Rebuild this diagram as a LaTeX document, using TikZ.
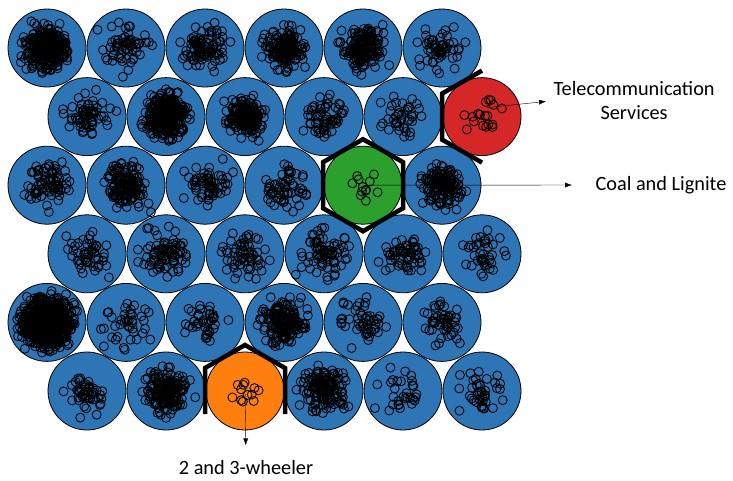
\documentclass[tikz,border=0pt]{standalone}
\usepackage{fontspec}
\setmainfont{Carlito}
\usetikzlibrary{positioning,arrows.meta}
\definecolor{somblue}{HTML}{2E75B6}
\definecolor{somred}{HTML}{D62728}
\definecolor{somgreen}{HTML}{2CA02C}
\definecolor{somorange}{HTML}{FF7F0E}

\begin{document}
\begin{tikzpicture}[x=1pt,y=-1pt,
  cellnode/.style={circle,draw=black,line width=0.8pt,minimum size=78pt,inner sep=0pt},
  hitdot/.style={draw=black,line width=0.85pt},
  hexline/.style={line width=4.5pt,line join=miter},
  pointer/.style={-{Latex[length=7pt,width=5pt]}},
  labeltext/.style={font=\fontsize{20.3}{24}\selectfont,align=center}]
\useasboundingbox (0,0) rectangle (733,480);
\pgfmathsetseed{4711}
%% som cells with their hits
\foreach \ri/\ci/\n/\s/\clr in {
  1/1/300/10/somblue, 1/2/60/11/somblue, 1/3/90/10/somblue, 1/4/150/10/somblue, 1/5/160/10/somblue, 1/6/55/10/somblue,
  2/1/60/11/somblue, 2/2/300/10/somblue, 2/3/170/9/somblue, 2/4/60/10/somblue, 2/5/40/10/somblue, 2/6/18/9/somred,
  3/1/80/10/somblue, 3/2/140/10/somblue, 3/3/60/10/somblue, 3/4/60/10/somblue, 3/5/12/7/somgreen, 3/6/140/10/somblue,
  4/1/50/10/somblue, 4/2/80/11/somblue, 4/3/60/10/somblue, 4/4/75/11/somblue, 4/5/60/10/somblue, 4/6/40/10/somblue,
  5/1/700/11.5/somblue, 5/2/40/11/somblue, 5/3/40/10/somblue, 5/4/170/10/somblue, 5/5/50/11/somblue, 5/6/50/10/somblue,
  6/1/50/10/somblue, 6/2/170/10/somblue, 6/3/12/7/somorange, 6/4/140/10/somblue, 6/5/30/11/somblue, 6/6/40/10/somblue}{
  \pgfmathsetmacro\cx{47+79*(\ci-1)+40*(1-mod(\ri,2))}
  \pgfmathsetmacro\cy{48+68.6*(\ri-1)}
  \node [cellnode,fill=\clr] (c\ri\ci) at (\cx,\cy) {};
  \foreach \k in {1,...,\n}{
    \pgfmathsetmacro\dx{\s*(rand+rand+rand)}
    \pgfmathsetmacro\dy{\s*(rand+rand+rand)}
    \draw [hitdot] ({\cx+\dx},{\cy+\dy}) circle (4.5pt);
  }
}
%the marked cells
\draw [hexline,shift={(c35.center)}] (0,-46) -- (40,-23) -- (40,23) -- (0,46) -- (-40,23) -- (-40,-23) -- cycle;
\draw [hexline,shift={(c26.center)}] (0,-46) -- (-40,-23) -- (-40,23) -- (0,46);
\draw [hexline,shift={(c63.center)}] (-40,23) -- (-40,-23) -- (0,-46) -- (40,-23) -- (40,23);
%labels
\node [labeltext,anchor=west] (telecom) at (550,101) {Telecommunication\\Services};
\node [labeltext,anchor=west] (coal) at (592,185) {Coal and Lignite};
\node [labeltext] (wheeler) at (246,468) {2 and 3-wheeler};
\coordinate (telehit) at ([shift={(5,-9)}]c26.center);
%drawings of arrows
\draw [pointer,shorten >=4pt] (telehit) -- (telecom.west);
\draw [pointer,shorten >=20pt] (c35.center) -- (coal.west);
\draw [pointer,shorten >=12pt] (c63.center) -- (wheeler.north);
\end{tikzpicture}
\end{document}
